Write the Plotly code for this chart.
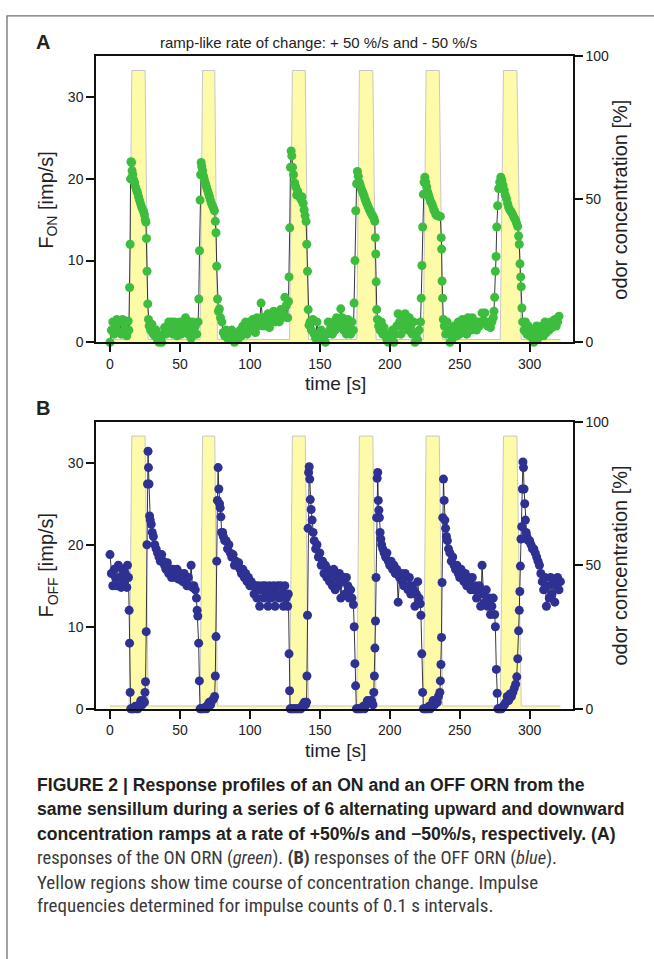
import plotly.graph_objects as go

# ---------------- data ----------------
# Panel A: ON ORN impulse frequency (time [s], F_ON [imp/s])
ON = [
    (0, 0), (1, 1.5), (2, 2.5), (3, 1.0), (4, 2.0), (5, 2.8), (6, 1.2), (7, 2.5), (8, 1.0), (9, 2.8), (10, 1.5),
    (11, 2.5), (12, 0.8), (13, 2.6), (13.5, 1.5),
    (14.0, 6.7), (14.4, 12.0), (14.7, 20.0), (15.0, 22.1), (15.4, 22.0), (15.8, 21.0), (16.3, 20.5), (17, 19.8),
    (17.6, 19.5), (18.3, 19.0), (19, 18.6), (19.7, 18.3), (20.4, 17.8), (21.1, 17.4), (21.8, 17.0), (22.5, 16.6),
    (23.2, 16.3), (24, 16.0), (24.6, 15.6), (25.2, 15.0), (25.7, 14.7), (26.1, 12.7), (26.5, 8.7), (27, 4.7), (27.5, 2.8),
    (28, 2.0), (29, 1.5), (30, 2.2), (31, 1.0), (32, 0.8), (33, 1.5), (34, 0.3), (35, 0.0), (36, 0.5), (37, 0.0),
    (38, 1.0), (39, 1.8), (40, 1.0), (41, 2.0), (42, 2.5), (43, 1.2), (44, 2.5), (45, 1.0), (46, 2.5), (47, 1.5),
    (48, 0.8), (49, 2.2), (50, 2.5), (51, 1.0), (52, 2.5), (53, 1.5), (54, 3.0), (55, 2.0), (56, 1.0), (57, 2.5),
    (58, 0.5), (59, 2.5), (60, 1.5), (61, 2.0), (62, 1.0), (63, 2.5),
    (63.5, 5.3), (64.0, 11.2), (64.4, 17.4), (64.8, 20.5), (65.2, 22.0), (65.6, 21.5), (66.2, 21.0), (66.9, 20.3),
    (67.6, 19.8), (68.3, 19.4), (69, 19.0), (69.7, 18.6), (70.4, 18.2), (71.1, 17.8), (71.8, 17.4), (72.5, 17.0),
    (73.2, 16.7), (74, 16.4), (74.7, 16.1), (75.3, 14.8), (75.8, 13.4), (76.3, 9.3), (76.9, 5.3), (77.5, 3.8), (78.2, 4.1),
    (79, 3.0), (80, 2.5), (81, 1.2), (82, 0.8), (83, 1.5), (84, 0.5), (85, 1.0), (86, 0.8), (87, 1.5), (88, 0.5),
    (89, 0.0), (90, 0.3), (91, 1.0), (92, 0.5), (93, 1.5), (94, 0.8), (95, 2.0), (96, 1.5), (97, 2.5), (98, 1.0),
    (99, 2.0), (100, 2.5), (101, 1.5), (102, 2.8), (103, 2.0), (104, 1.2), (105, 3.0), (106, 2.0), (107, 2.5),
    (108, 4.8), (109, 3.0), (110, 2.0), (111, 3.0), (112, 2.5), (113, 3.5), (114, 1.8), (115, 3.0), (116, 2.5),
    (117, 3.8), (118, 2.5), (119, 3.0), (120, 3.5), (121, 2.5), (122, 4.0), (123, 3.0), (124, 3.5), (125, 5.5),
    (126, 4.5), (127, 3.0), (127.6, 5.0),
    (128.0, 8.0), (128.5, 14.0), (129.0, 21.4), (129.5, 23.4), (130.0, 22.8), (130.5, 21.4), (131.2, 20.5),
    (132, 19.5), (132.8, 19.0), (133.5, 18.0), (134.2, 18.5), (135, 18.0), (135.8, 17.8), (136.5, 17.5),
    (137.2, 17.8), (138, 17.0), (138.8, 16.2), (139.5, 15.5), (140.2, 14.8), (140.7, 12.0), (141.2, 8.7),
    (141.7, 4.0), (142.3, 2.1),
    (143, 2.5), (144, 1.5), (145, 2.8), (146, 1.0), (147, 0.5), (148, 2.5), (149, 1.0), (150, 0.5), (151, 1.5),
    (152, 1.0), (153, 0.2), (154, 0.0), (155, 1.0), (156, 2.5), (157, 1.5), (158, 2.0), (159, 1.0), (160, 2.5),
    (161, 1.5), (162, 3.0), (163, 1.8), (164, 2.5), (165, 4.1), (166, 3.0), (167, 1.5), (168, 2.5), (169, 1.0),
    (170, 2.8), (171, 2.0), (172, 1.0), (173, 2.5), (174, 1.5),
    (174.5, 4.8), (175.1, 10.0), (175.7, 16.1), (176.3, 19.4), (176.9, 20.9), (177.5, 20.3), (178.2, 19.6),
    (178.9, 19.2), (179.6, 18.8), (180.3, 18.5), (181, 18.2), (181.7, 17.9), (182.4, 17.5), (183.1, 17.2),
    (183.8, 16.9), (184.5, 16.6), (185.2, 16.3), (185.9, 16.1), (186.6, 15.8), (187.3, 15.6), (188, 15.4),
    (188.7, 15.2), (189.3, 14.8), (189.7, 12.8), (190.0, 10.8), (190.3, 7.4), (190.7, 4.0), (191.2, 2.8),
    (192, 2.0), (193, 1.5), (194, 2.5), (195, 1.0), (196, 1.8), (197, 0.8), (198, 0.3), (199, 0.0), (200, 1.0),
    (201, 0.5), (202, 1.5), (203, 0.0), (204, 1.0), (205, 2.0), (206, 3.5), (207, 2.5), (208, 1.0), (209, 2.0),
    (210, 3.0), (211, 3.5), (212, 2.5), (213, 1.5), (214, 3.0), (215, 2.0), (216, 1.0), (217, 2.5), (218, 0.0),
    (219, 1.0), (220, 0.3), (221, 1.5), (222, 2.5),
    (222.5, 5.4), (223.0, 9.4), (223.5, 14.1), (224.0, 18.1), (224.5, 19.6), (225.1, 20.2), (225.7, 19.6),
    (226.4, 19.0), (227.1, 18.4), (227.8, 18.0), (228.5, 17.6), (229.2, 17.2), (230, 17.0), (230.8, 16.6),
    (231.5, 16.2), (232.2, 16.0), (233, 15.6), (233.8, 15.5), (234.6, 15.5), (235.4, 15.4), (236.2, 15.4),
    (236.8, 12.8), (237.1, 11.4), (237.4, 7.5), (237.8, 5.4), (238.3, 2.8),
    (239, 2.0), (240, 1.0), (241, 2.5), (242, 1.5), (243, 0.0), (244, 1.0), (245, 0.5), (246, 2.0), (247, 1.5),
    (248, 0.8), (249, 2.5), (250, 1.0), (251, 2.0), (252, 2.8), (253, 1.5), (254, 2.5), (255, 1.0), (256, 3.0),
    (257, 2.0), (258, 1.5), (259, 3.0), (260, 2.0), (261, 2.5), (262, 1.5), (263, 2.5), (264, 2.0), (265, 2.5),
    (266, 3.6), (267, 2.5), (268, 3.6), (269, 2.5), (270, 2.0), (271, 2.5), (272, 1.8), (273, 2.5), (274, 3.0),
    (274.5, 3.8), (275.0, 5.5), (275.5, 8.7), (276.0, 10.5), (276.5, 14.1), (277.1, 16.7), (277.8, 18.8),
    (278.6, 19.6), (279.4, 20.2), (280.2, 19.8), (281, 19.2), (281.8, 18.6), (282.6, 18.0), (283.4, 17.6),
    (284.2, 17.0), (285, 16.5), (285.8, 16.2), (286.6, 16.0), (287.4, 15.8), (288.2, 15.5), (289, 15.2),
    (289.8, 15.0), (290.6, 14.6), (291.4, 14.2), (292.1, 13.0), (292.6, 12.0), (293.1, 9.6), (293.6, 8.0),
    (294.0, 6.8), (294.5, 4.2), (295.0, 2.5),
    (296, 1.5), (297, 2.5), (298, 1.0), (299, 2.0), (300, 0.8), (301, 1.5), (302, 0.5), (303, 0.0), (304, 1.0),
    (305, 2.0), (306, 0.5), (307, 1.5), (308, 1.0), (309, 2.0), (310, 0.8), (311, 2.5), (312, 1.2), (313, 2.0),
    (314, 1.5), (315, 2.5), (316, 1.8), (317, 2.0), (318, 2.8), (319, 2.0), (320, 2.5), (321, 3.2),
]

# Panel B: OFF ORN impulse frequency (time [s], F_OFF [imp/s])
OFF = [
    (0, 18.8), (1, 16.5), (2, 15.0), (3, 17.0), (4, 16.0), (5, 15.0), (6, 17.5), (7, 16.0), (8, 14.8), (9, 17.0),
    (10, 15.5), (11, 16.5), (12, 14.8), (12.5, 17.5), (13.2, 16.0),
    (13.7, 12.0), (14.0, 8.0), (14.4, 2.0), (14.8, 0), (15.5, 0), (16.3, 0), (17, 0), (18, 0.3), (19, 0), (20, 0),
    (21, 0.5), (22, 1.0), (23, 0.5), (24, 1.0), (24.6, 0.8), (25.0, 2.0), (25.4, 3.3), (25.9, 9.4), (26.4, 20.0),
    (26.8, 27.4), (27.2, 31.4), (27.5, 29.4), (27.9, 27.4), (28.3, 23.5),
    (28.8, 23.0), (29.5, 22.5), (30.2, 21.5), (31, 21.0), (32, 20.0), (33, 19.5), (34, 19.0), (35, 18.5),
    (36, 18.0), (37, 18.8), (38, 18.0), (39, 17.5), (40, 17.0), (41, 17.8), (42, 16.5), (43, 17.0), (44, 16.0),
    (45, 17.0), (46, 16.5), (47, 16.0), (48, 17.0), (49, 15.8), (50, 16.5), (51, 16.0), (52, 15.5), (53, 16.5),
    (54, 15.5), (55, 15.0), (56, 16.0), (57, 15.0), (58, 17.5), (59, 14.8), (60, 15.0), (61, 14.5), (61.8, 13.5),
    (62.3, 12.0), (62.8, 11.3), (63.4, 8.0), (63.9, 3.4), (64.4, 0),
    (65, 0), (66, 0), (67, 0), (68, 0.2), (69, 0), (70, 0.5), (71, 0.8), (72, 0.5), (73, 1.0), (74, 1.2), (74.8, 1.5),
    (75.3, 4.0), (75.8, 8.8), (76.3, 18.0), (76.8, 25.4), (77.3, 29.4), (77.8, 26.8), (78.3, 25.0), (78.8, 24.5),
    (79.3, 23.4), (79.8, 21.5),
    (80.5, 21.5), (81, 21.0), (82, 20.5), (83, 20.5), (84, 19.5), (85, 20.0), (86, 19.0), (87, 18.5), (88, 18.8),
    (89, 17.5), (90, 18.0), (91, 17.5), (92, 17.8), (93, 17.0), (94, 16.5), (95, 17.0), (96, 16.0), (97, 16.5),
    (98, 15.5), (99, 16.0), (100, 15.0), (101, 15.5), (102, 15.0), (103, 14.0), (104, 15.0), (105, 13.5),
    (106, 15.0), (107, 12.5), (108, 14.5), (109, 15.0), (110, 13.5), (111, 15.0), (112, 14.0), (113, 12.5),
    (114, 15.0), (115, 13.5), (116, 14.5), (117, 15.0), (118, 12.5), (119, 14.0), (120, 15.0), (121, 13.5),
    (122, 15.0), (123, 14.0), (124, 12.5), (125, 15.0), (126, 13.5), (127, 12.5), (127.5, 14.0),
    (128.0, 6.7), (128.4, 2.2), (128.8, 0), (129.5, 0), (130.5, 0), (131.5, 0), (132.5, 0), (133.5, 0), (134.5, 0),
    (135.5, 0), (136.5, 0), (137.3, 0.3), (138, 0.5), (139, 0.8), (139.8, 0.5),
    (140.5, 0.8), (140.8, 4.0), (141.2, 11.4), (141.6, 22.0), (142.0, 28.8), (142.4, 29.5), (142.8, 28.0),
    (143.2, 25.5), (143.8, 24.3),
    (144.5, 23.0), (145.2, 21.5), (146, 20.5), (147, 19.5), (148, 20.0), (149, 18.5), (150, 19.0), (151, 17.5),
    (152, 18.0), (153, 16.5), (154, 17.5), (155, 16.0), (156, 17.0), (157, 15.5), (158, 16.5), (159, 15.0),
    (160, 17.0), (161, 14.5), (162, 16.0), (163, 15.0), (164, 16.5), (165, 13.5), (166, 15.5), (167, 16.0),
    (168, 14.0), (169, 16.0), (170, 15.0), (171, 13.5), (172, 14.5), (173, 13.5), (174, 12.7), (174.6, 10.0),
    (175.1, 5.5), (175.6, 2.8), (176.1, 0),
    (177, 0), (178, 0), (179, 0), (180, 0), (181, 0.3), (182, 0), (183, 0.5), (184, 1.0), (185, 0.8), (186, 1.0),
    (187, 1.0), (188, 0.5),
    (188.6, 2.0), (189.0, 4.0), (189.4, 7.4), (189.8, 10.7), (190.2, 16.0), (190.6, 23.3), (191.0, 28.1),
    (191.4, 28.8), (191.8, 25.4), (192.2, 24.2), (192.6, 23.3), (193.1, 21.5), (193.6, 20.7),
    (194.2, 20.0), (195, 19.5), (196, 19.0), (197, 18.5), (198, 19.0), (199, 18.0), (200, 17.5), (201, 18.0),
    (202, 17.0), (203, 17.5), (204, 16.5), (205, 17.0), (206, 13.0), (207, 16.0), (208, 16.5), (209, 15.5),
    (210, 15.0), (211, 16.5), (212, 15.0), (213, 14.5), (214, 16.0), (215, 14.0), (216, 15.0), (217, 14.5),
    (218, 12.5), (219, 14.0), (220, 15.5), (221, 13.5), (221.8, 12.8), (222.3, 11.4), (222.9, 6.7), (223.5, 2.0),
    (224.0, 0),
    (225, 0), (226, 0), (227, 0), (228, 0.3), (229, 0), (230, 0.5), (231, 1.0), (232, 0.5), (233, 1.0), (234, 0.8),
    (234.8, 1.5),
    (235.8, 2.0), (236.2, 3.4), (236.6, 5.4), (237.0, 8.7), (237.4, 15.4), (237.9, 23.3), (238.4, 28.0),
    (238.9, 25.4), (239.4, 23.0), (239.9, 22.0),
    (240.5, 21.0), (241.2, 20.5), (242, 19.5), (243, 19.0), (244, 18.0), (245, 18.5), (246, 17.5), (247, 17.0),
    (248, 17.5), (249, 16.5), (250, 16.0), (251, 17.0), (252, 16.5), (253, 15.5), (254, 16.5), (255, 15.0),
    (256, 16.0), (257, 15.5), (258, 14.5), (259, 16.0), (260, 14.5), (261, 15.0), (262, 13.5), (263, 14.5),
    (264, 15.0), (265, 12.5), (266, 17.5), (267, 14.0), (268, 13.0), (269, 14.5), (270, 12.5), (271, 13.5),
    (272, 11.5), (273, 12.5), (274, 13.5), (275, 11.5), (275.5, 10.0), (276.2, 4.8), (276.8, 1.9), (277.3, 0),
    (278, 0), (279, 0), (280, 0), (281, 0.3), (282, 0.5), (283, 0.8), (284, 1.5), (285, 1.0), (286, 1.8),
    (287, 1.5), (288, 2.0), (289, 2.5), (290, 3.0),
    (290.8, 3.9), (291.5, 6.1), (292.1, 9.5), (292.6, 12.0), (293.0, 14.3), (293.4, 17.4), (293.8, 20.7),
    (294.3, 22.2), (294.8, 26.8), (295.2, 30.1), (295.6, 29.4), (296.0, 26.8),
    (296.5, 25.0), (297, 23.0), (297.5, 21.5), (298, 21.0), (299, 20.5), (300, 20.5), (301, 20.0), (302, 19.5),
    (303, 19.5), (304, 19.0), (305, 18.5), (306, 18.0), (307, 17.5), (308, 16.5), (309, 15.5), (310, 14.5),
    (311, 16.0), (312, 12.5), (313, 15.0), (314, 13.5), (315, 16.0), (316, 14.0), (317, 15.5), (318, 13.0),
    (319, 15.0), (320, 16.0), (321, 14.5), (322, 15.5),
]

# Odor concentration ramps (time [s]); concentration levels in %
ramp_up_start = [13.7, 64.4, 128.4, 176.4, 224.0, 279.0]
ramp_up_end = [15.6, 66.2, 130.4, 178.3, 226.0, 281.3]
ramp_down_start = [25.1, 74.9, 139.6, 187.9, 235.4, 290.9]
ramp_down_end = [27.3, 76.8, 141.9, 190.2, 237.8, 294.0]
conc_plateau = 95
conc_base = 1
conc_start, conc_end = 0, 322

x_ticks = [0, 50, 100, 150, 200, 250, 300]
rate_ticks = [0, 10, 20, 30]
conc_ticks = [0, 50, 100]

# ---------------- build ----------------
W, H = 654, 959
on_t = [p[0] for p in ON]
on_f = [p[1] for p in ON]
off_t = [p[0] for p in OFF]
off_f = [p[1] for p in OFF]

conc_t = [conc_start]
conc_v = [conc_base]
for a, b, c, d in zip(ramp_up_start, ramp_up_end, ramp_down_start, ramp_down_end):
    conc_t += [a, b, c, d]
    conc_v += [conc_base, conc_plateau, conc_plateau, conc_base]
conc_t.append(conc_end)
conc_v.append(conc_base)

YELLOW = "#fdfaa8"
GREEN = "#3dbd3d"
BLUE = "#2e3192"
FONT = "Liberation Sans, Arial, sans-serif"

fig = go.Figure()

for xa, ya_c, ya_r, t, f, col in [("x", "y", "y2", on_t, on_f, GREEN),
                                   ("x2", "y3", "y4", off_t, off_f, BLUE)]:
    fig.add_trace(go.Scatter(x=conc_t, y=conc_v, xaxis=xa, yaxis=ya_c, mode="lines",
                             fill="tozeroy", fillcolor=YELLOW,
                             line=dict(color="#c8c8c8", width=1), hoverinfo="skip"))
    fig.add_trace(go.Scatter(x=t, y=f, xaxis=xa, yaxis=ya_r, mode="lines+markers",
                             line=dict(color="#222222", width=0.9),
                             marker=dict(color=col, size=9, line=dict(width=0)),
                             cliponaxis=False))


def px(p):
    return p / W


def py(p):
    return 1 - p / H


xdom = [px(96), px(573)]
domA = [py(340), py(49)]
domB = [py(712.7), py(420.7)]

axis_common = dict(showline=True, linecolor="#111", linewidth=1.5, ticks="outside",
                   tickcolor="#111", tickwidth=1.5, showgrid=False, zeroline=False,
                   tickfont=dict(family=FONT, size=14, color="#222"))

for xname, anchor, dom in [("xaxis", "y", domA), ("xaxis2", "y3", domB)]:
    fig.layout[xname] = dict(domain=xdom, anchor=anchor, range=[-10, 331], tickvals=x_ticks,
                             ticklen=8, mirror=True, **axis_common)

fig.layout["yaxis"] = dict(domain=domA, anchor="x", side="right", range=[0, 100], tickvals=conc_ticks,
                           ticklen=8, **axis_common)
fig.layout["yaxis2"] = dict(overlaying="y", anchor="x", side="left", range=[0, 35], tickvals=rate_ticks,
                            ticklen=8, **axis_common)
fig.layout["yaxis3"] = dict(domain=domB, anchor="x2", side="right", range=[0, 100], tickvals=conc_ticks,
                            ticklen=8, **axis_common)
fig.layout["yaxis4"] = dict(overlaying="y3", anchor="x2", side="left", range=[0, 35], tickvals=rate_ticks,
                            ticklen=8, **axis_common)

ann = []


def add_text(text, x, y, size, angle=0, xanchor="center", color="#222", family=FONT):
    ann.append(dict(text=text, x=px(x), y=py(y), xref="paper", yref="paper", showarrow=False,
                    xanchor=xanchor, yanchor="middle", textangle=angle,
                    font=dict(family=family, size=size, color=color)))


add_text("<b>A</b>", 43, 35, 20)
add_text("<b>B</b>", 43, 407, 20)
add_text("ramp-like rate of change: + 50 %/s and - 50 %/s", 318, 35, 15)
add_text("F<sub>ON</sub> [imp/s]", 48, 195, 20, angle=-90)
add_text("F<sub>OFF</sub> [imp/s]", 48, 567, 20, angle=-90)
add_text("odor concentration [%]", 620, 195, 20, angle=-90)
add_text("odor concentration [%]", 620, 567, 20, angle=-90)
add_text("time [s]", 335, 382, 19)
add_text("time [s]", 335, 755, 19)

NARROW = "Liberation Sans Narrow, Arial Narrow, Roboto Condensed, sans-serif"
caption_bold = [
    ("<b>FIGURE 2 | Response profiles of an ON and an OFF ORN from the</b>", 790),
    ("<b>same sensillum during a series of 6 alternating upward and downward</b>", 815),
    ("<b>concentration ramps at a rate of +50%/s and \u221250%/s, respectively. (A)</b>", 840),
]
caption_plain = [
    ("responses of the ON ORN (<i>green</i>). <b>(B)</b> responses of the OFF ORN (<i>blue</i>).", 864, 18.5),
    ("Yellow regions show time course of concentration change. Impulse", 889, 19),
    ("frequencies determined for impulse counts of 0.1 s intervals.", 913, 19),
]
for txt, yy in caption_bold:
    add_text(txt, 35, yy, 17.6, xanchor="left", color="#231f20", family=FONT)
for txt, yy, sz in caption_plain:
    add_text(txt, 35, yy, sz, xanchor="left", color="#3a3a3a", family=NARROW)

fig.update_layout(
    width=W, height=H, margin=dict(l=0, r=0, t=0, b=0),
    paper_bgcolor="white", plot_bgcolor="white", showlegend=False,
    annotations=ann,
    shapes=[dict(type="rect", xref="paper", yref="paper", x0=px(7), x1=1.2, y0=-0.2, y1=py(8),
                 line=dict(color="#707070", width=1.3), fillcolor="rgba(0,0,0,0)", layer="below")],
)

fig.write_html("out.html", config={"displayModeBar": False},
               post_script="document.body.style.margin='0px';document.body.style.overflow='hidden';")
